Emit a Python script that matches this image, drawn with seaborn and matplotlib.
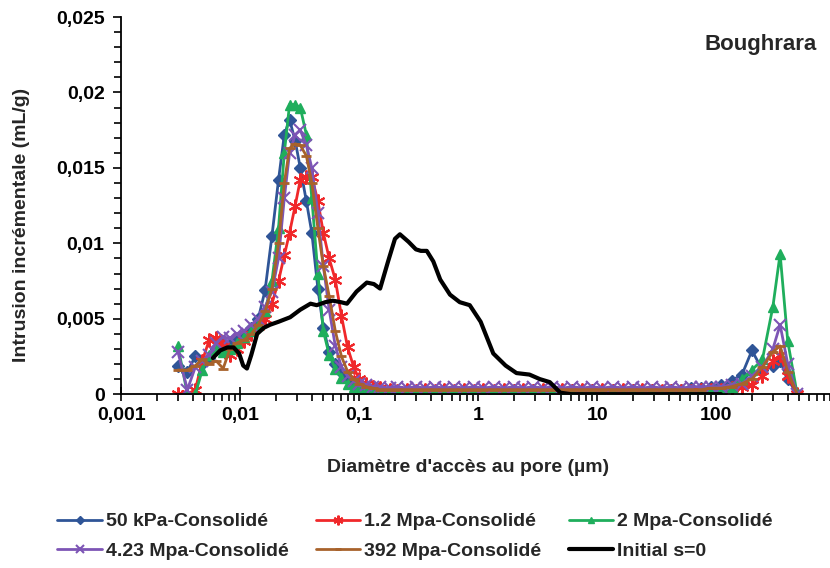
import matplotlib
matplotlib.use("Agg")
import matplotlib.pyplot as plt
import numpy as np
import seaborn as sns
from matplotlib.ticker import LogLocator, MultipleLocator, NullFormatter

# === Data ===
# pore access diameter (um), shared by the consolidated samples
diam = [0.003, 0.0036, 0.0042, 0.0048, 0.0055, 0.0063, 0.0072, 0.0082, 0.0094, 0.0108,
        0.0124, 0.0142, 0.0162, 0.0185, 0.021, 0.0235, 0.026, 0.029, 0.032, 0.036,
        0.040, 0.045, 0.050, 0.056, 0.063, 0.071, 0.080, 0.090, 0.10, 0.115,
        0.13, 0.15, 0.18, 0.21, 0.25, 0.30, 0.36, 0.43, 0.52, 0.63,
        0.76, 0.92, 1.1, 1.35, 1.65, 2.0, 2.4, 2.9, 3.5, 4.2,
        5.1, 6.2, 7.5, 9.0, 11, 13.5, 16.5, 20, 24, 29,
        35, 42, 51, 62, 75, 90, 110, 135, 165, 200,
        245, 300, 345, 400, 480]

kpa50 = [0.0019, 0.0015, 0.0025, 0.0020, 0.0024, 0.0030, 0.0034, 0.0033, 0.0036, 0.0039,
         0.0044, 0.0050, 0.0069, 0.0105, 0.0142, 0.0172, 0.0182, 0.0168, 0.0150, 0.0128,
         0.0107, 0.0070, 0.0044, 0.0028, 0.0020, 0.0015, 0.0011, 0.0008, 0.0006, 0.0005,
         0.0004, 0.0003, 0.0003, 0.0002, 0.0003, 0.0002, 0.0003, 0.0002, 0.0003, 0.0002,
         0.0003, 0.0002, 0.0003, 0.0002, 0.0002, 0.0003, 0.0002, 0.0003, 0.0002, 0.0003,
         0.0002, 0.0003, 0.0002, 0.0003, 0.0002, 0.0003, 0.0002, 0.0003, 0.0002, 0.0003,
         0.0002, 0.0003, 0.0003, 0.0004, 0.0004, 0.0005, 0.0006, 0.0009, 0.0013, 0.0029,
         0.0016, 0.0019, 0.0022, 0.0010, 0.0000]

mpa1_2 = [0.0000, 0.0000, 0.0003, 0.0022, 0.0036, 0.0037, 0.0032, 0.0026, 0.0030, 0.0035,
          0.0040, 0.0045, 0.0050, 0.0060, 0.0075, 0.0092, 0.0107, 0.0125, 0.0142, 0.0144,
          0.0144, 0.0128, 0.0107, 0.0090, 0.0076, 0.0052, 0.0031, 0.0018, 0.0010, 0.0007,
          0.0005, 0.0004, 0.0003, 0.0002, 0.0003, 0.0002, 0.0003, 0.0002, 0.0003, 0.0002,
          0.0003, 0.0002, 0.0003, 0.0002, 0.0003, 0.0002, 0.0003, 0.0002, 0.0003, 0.0002,
          0.0003, 0.0002, 0.0003, 0.0002, 0.0003, 0.0002, 0.0003, 0.0002, 0.0003, 0.0002,
          0.0002, 0.0002, 0.0002, 0.0002, 0.0003, 0.0003, 0.0003, 0.0004, 0.0005, 0.0006,
          0.0012, 0.0022, 0.0026, 0.0012, 0.0000]

mpa2 = [0.0032, 0.0000, 0.0000, 0.0016, 0.0026, 0.0030, 0.0028, 0.0030, 0.0034, 0.0038,
        0.0042, 0.0046, 0.0055, 0.0075, 0.0110, 0.0160, 0.0192, 0.0192, 0.0190, 0.0172,
        0.0130, 0.0080, 0.0042, 0.0026, 0.0017, 0.0011, 0.0007, 0.0005, 0.0003, 0.0002,
        0.0002, 0.0001, 0.0001, 0.0001, 0.0000, 0.0001, 0.0000, 0.0001, 0.0000, 0.0001,
        0.0000, 0.0001, 0.0000, 0.0001, 0.0000, 0.0001, 0.0000, 0.0001, 0.0000, 0.0001,
        0.0000, 0.0001, 0.0000, 0.0001, 0.0000, 0.0001, 0.0000, 0.0001, 0.0000, 0.0001,
        0.0000, 0.0001, 0.0001, 0.0001, 0.0002, 0.0002, 0.0003, 0.0005, 0.0010, 0.0016,
        0.0023, 0.0058, 0.0093, 0.0035, 0.0000]

mpa4_23 = [0.0028, 0.0003, 0.0018, 0.0022, 0.0026, 0.0034, 0.0038, 0.0037, 0.0040, 0.0042,
           0.0046, 0.0050, 0.0058, 0.0068, 0.0090, 0.0130, 0.0160, 0.0172, 0.0175, 0.0165,
           0.0150, 0.0120, 0.0085, 0.0056, 0.0032, 0.0018, 0.0012, 0.0009, 0.0007, 0.0006,
           0.0005, 0.0005, 0.0004, 0.0005, 0.0004, 0.0005, 0.0004, 0.0005, 0.0004, 0.0005,
           0.0004, 0.0005, 0.0004, 0.0005, 0.0004, 0.0005, 0.0004, 0.0005, 0.0004, 0.0005,
           0.0004, 0.0005, 0.0004, 0.0005, 0.0004, 0.0005, 0.0004, 0.0005, 0.0004, 0.0005,
           0.0004, 0.0005, 0.0004, 0.0005, 0.0005, 0.0005, 0.0005, 0.0006, 0.0007, 0.0012,
           0.0018, 0.0030, 0.0046, 0.0020, 0.0000]

mpa392 = [0.0016, 0.0016, 0.0019, 0.0023, 0.0020, 0.0022, 0.0017, 0.0030, 0.0034, 0.0036,
          0.0040, 0.0046, 0.0055, 0.0070, 0.0100, 0.0140, 0.0163, 0.0166, 0.0165, 0.0158,
          0.0140, 0.0110, 0.0085, 0.0065, 0.0042, 0.0025, 0.0015, 0.0010, 0.0007, 0.0005,
          0.0004, 0.0003, 0.0003, 0.0003, 0.0003, 0.0003, 0.0003, 0.0003, 0.0003, 0.0003,
          0.0003, 0.0003, 0.0003, 0.0003, 0.0003, 0.0003, 0.0003, 0.0003, 0.0003, 0.0003,
          0.0003, 0.0003, 0.0003, 0.0003, 0.0003, 0.0003, 0.0003, 0.0003, 0.0003, 0.0003,
          0.0003, 0.0003, 0.0003, 0.0003, 0.0003, 0.0004, 0.0004, 0.0005, 0.0007, 0.0010,
          0.0018, 0.0028, 0.0032, 0.0015, 0.0000]

# initial state (s=0), plain black line
diam_init = [0.0059, 0.0068, 0.0078, 0.0088, 0.0098, 0.0106, 0.0114, 0.0124, 0.0139, 0.0158,
             0.0178, 0.021, 0.0263, 0.032, 0.039, 0.044, 0.052, 0.060, 0.070, 0.079,
             0.095, 0.116, 0.133, 0.150, 0.175, 0.20, 0.22, 0.26, 0.30, 0.33,
             0.37, 0.42, 0.48, 0.58, 0.70, 0.85, 1.05, 1.34, 1.7, 2.1,
             2.7, 3.3, 4.0, 4.9, 6.0, 10, 20, 50, 110]
initial = [0.0024, 0.0029, 0.0031, 0.0031, 0.0027, 0.0019, 0.0017, 0.0026, 0.0040, 0.0044,
           0.0046, 0.0048, 0.0051, 0.0056, 0.0060, 0.0059, 0.0061, 0.0062, 0.0061, 0.0060,
           0.0068, 0.0074, 0.0073, 0.0070, 0.0088, 0.0103, 0.0106, 0.0101, 0.0096, 0.0095,
           0.0095, 0.0088, 0.0076, 0.0066, 0.0061, 0.0059, 0.0048, 0.0027, 0.0019, 0.0014,
           0.0013, 0.0010, 0.0008, 0.0001, 0.0000, 0.0000, 0.0000, 0.0000, 0.0000]

labels = ["50 kPa-Consolidé", "1.2 Mpa-Consolidé", "2 Mpa-Consolidé",
          "4.23 Mpa-Consolidé", "392 Mpa-Consolidé", "Initial s=0"]
xtick_vals = [0.001, 0.01, 0.1, 1, 10, 100]
xtick_labels = ["0,001", "0,01", "0,1", "1", "10", "100"]
ytick_vals = [0, 0.005, 0.01, 0.015, 0.02, 0.025]
ytick_labels = ["0", "0,005", "0,01", "0,015", "0,02", "0,025"]

# === Style ===
sns.set_style("white")
plt.rcParams["font.family"] = ["Liberation Sans", "DejaVu Sans"]
plt.rcParams["font.weight"] = "bold"

fig = plt.figure(figsize=(8.3, 5.68), dpi=100)
ax = fig.add_axes([0.146, 0.306, 0.854, 0.664])

styles = [
    dict(color="#2f5597", marker="D", ms=6.5, mew=1),
    dict(color="#f0282a", marker=(6, 2, 0), ms=10, mew=1.5),
    dict(color="#1fae5c", marker="^", ms=7, mew=1),
    dict(color="#7d55b5", marker="x", ms=8, mew=1.5),
    dict(color="#a8622b", marker="_", ms=7, mew=2),
]
series = [kpa50, mpa1_2, mpa2, mpa4_23, mpa392]

for vals, lab, st in zip(series, labels[:5], styles):
    sns.lineplot(x=diam, y=vals, ax=ax, label=lab, linewidth=2, sort=False,
                 estimator=None, markeredgecolor=st["color"], **st)

sns.lineplot(x=diam_init, y=initial, ax=ax, label=labels[5], color="black",
             linewidth=3, sort=False, estimator=None)

# === Axes ===
ax.set_xscale("log")
ax.set_xlim(0.001, 906)
ax.set_ylim(0, 0.025)
ax.set_xticks(xtick_vals, xtick_labels)
ax.xaxis.set_minor_locator(LogLocator(base=10, subs=np.arange(2, 10)))
ax.xaxis.set_minor_formatter(NullFormatter())
ax.set_yticks(ytick_vals, ytick_labels)
ax.yaxis.set_minor_locator(MultipleLocator(0.001))

for side in ["top", "right"]:
    ax.spines[side].set_visible(False)
for side in ["left", "bottom"]:
    ax.spines[side].set_color("black")
    ax.spines[side].set_linewidth(1.3)

ax.tick_params(axis="both", which="both", bottom=True, left=True, colors="black",
               labelsize=14, width=1.2)
ax.tick_params(axis="x", which="major", direction="inout", length=10, pad=4)
ax.tick_params(axis="x", which="minor", direction="out", length=5)
ax.tick_params(axis="y", which="major", direction="out", length=6, pad=6)
ax.tick_params(axis="y", which="minor", direction="out", length=5)

ax.set_xlabel("Diamètre d'accès au pore (µm)", fontsize=14, fontweight="bold")
ax.xaxis.set_label_coords(0.49, -0.172)
ax.set_ylabel("Intrusion incrémentale (mL/g)", fontsize=14, fontweight="bold")
ax.yaxis.set_label_coords(-0.128, 0.45)

fig.text(0.916, 0.921, "Boughrara", fontsize=16, fontweight="bold",
         ha="center", va="center")

# legend: 3 columns, filled column by column
handles, labs = ax.get_legend_handles_labels()
ax.get_legend().remove()
order = [0, 3, 1, 4, 2, 5]
fig.legend([handles[i] for i in order], [labs[i] for i in order],
           loc="center", bbox_to_anchor=(0.5, 0.056), ncol=3, frameon=False,
           fontsize=14, handlelength=2.3, handletextpad=0.2, columnspacing=1.4,
           labelspacing=0.6, markerscale=0.7)

fig.savefig("out.png", dpi=100)
